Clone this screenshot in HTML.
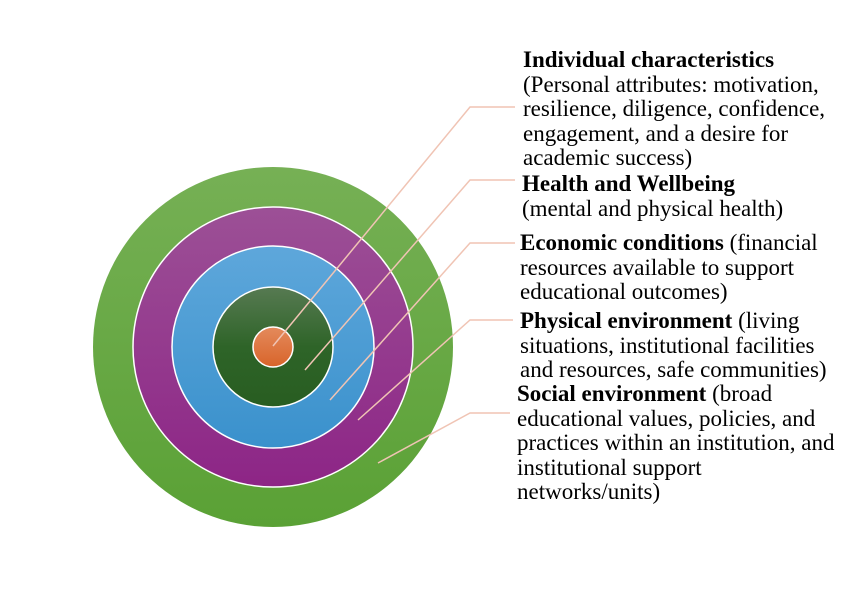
<!DOCTYPE html>
<html><head><meta charset="utf-8"><style>
body{margin:0;width:853px;height:605px;background:#fff;position:relative;overflow:hidden;font-family:"Liberation Serif",serif;}
.t{position:absolute;font-size:23px;line-height:24.6px;color:#000;white-space:nowrap;}
b{font-weight:bold;}
</style></head><body>
<svg width="853" height="605" style="position:absolute;left:0;top:0">
<defs>
<linearGradient id="g1" x1="0" y1="0" x2="0" y2="1"><stop offset="0" stop-color="#76b055"/><stop offset="1" stop-color="#5aa135"/></linearGradient>
<linearGradient id="g2" x1="0" y1="0" x2="0" y2="1"><stop offset="0" stop-color="#9c5096"/><stop offset="1" stop-color="#8d2586"/></linearGradient>
<linearGradient id="g3" x1="0" y1="0" x2="0" y2="1"><stop offset="0" stop-color="#5ea7db"/><stop offset="1" stop-color="#3a91cc"/></linearGradient>
<linearGradient id="g4" x1="0" y1="0" x2="0" y2="1"><stop offset="0" stop-color="#577a52"/><stop offset="0.5" stop-color="#2e6428"/><stop offset="1" stop-color="#285d21"/></linearGradient>
<linearGradient id="g5" x1="0" y1="0" x2="0" y2="1"><stop offset="0" stop-color="#e48a5c"/><stop offset="1" stop-color="#d8642a"/></linearGradient>
</defs>
<circle cx="273" cy="347" r="180" fill="url(#g1)"/>
<circle cx="273" cy="347" r="140" fill="url(#g2)" stroke="#fff" stroke-width="1.5"/>
<circle cx="273" cy="347" r="101" fill="url(#g3)" stroke="#fff" stroke-width="1.5"/>
<circle cx="273" cy="347" r="60" fill="url(#g4)" stroke="#fff" stroke-width="1.5"/>
<circle cx="273" cy="347" r="20" fill="url(#g5)" stroke="#fff" stroke-width="1.5"/>
<g stroke="#f0c4b4" stroke-width="1.5" fill="none">
<polyline points="273,346 470,107 515,107"/>
<polyline points="305,370 470,180 515,180"/>
<polyline points="330,400 470,243 515,243"/>
<polyline points="358,420 470,320 513,320"/>
<polyline points="378,463 470,413 510,413"/>
</g>
</svg>
<div class="t" style="left:523px;top:48px"><b>Individual characteristics</b><br>(Personal attributes: motivation,<br>resilience, diligence, confidence,<br>engagement, and a desire for<br>academic success)</div>
<div class="t" style="left:522px;top:172px"><b>Health and Wellbeing</b><br>(mental and physical health)</div>
<div class="t" style="left:520px;top:231px"><b>Economic conditions</b> (financial<br>resources available to support<br>educational outcomes)</div>
<div class="t" style="left:520px;top:309px"><b>Physical environment</b> (living<br>situations, institutional facilities<br>and resources, safe communities)</div>
<div class="t" style="left:517px;top:382px"><b>Social environment</b> (broad<br>educational values, policies, and<br>practices within an institution, and<br>institutional support<br>networks/units)</div>
</body></html>
